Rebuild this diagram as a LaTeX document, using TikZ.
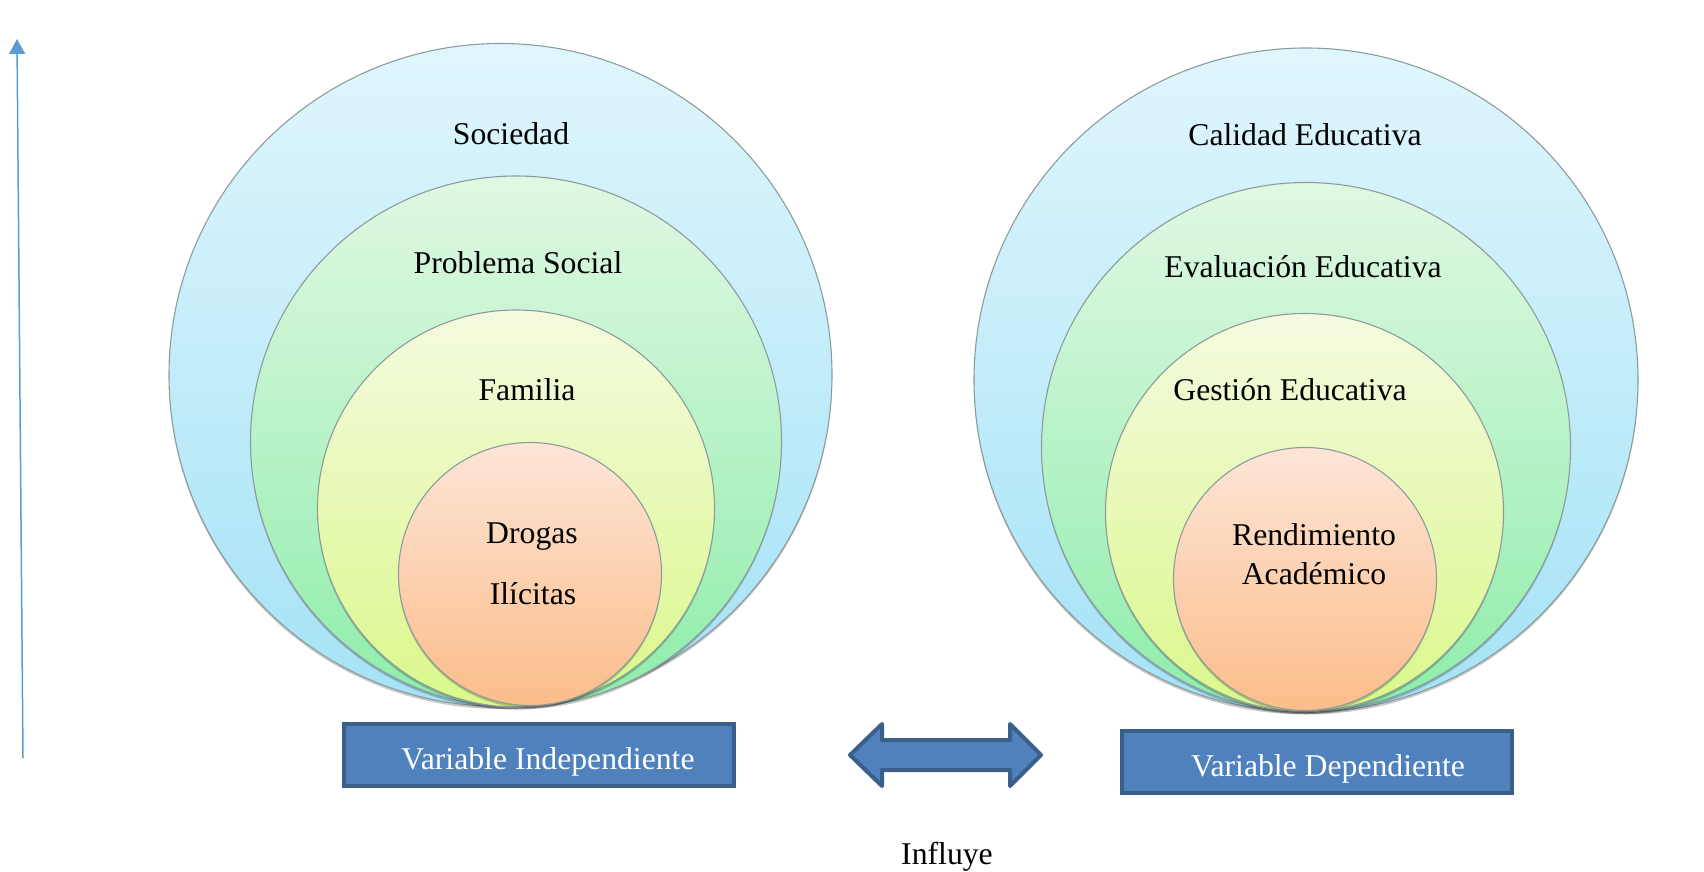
\documentclass[tikz,border=0pt]{standalone}
\usepackage{fontspec}
\setmainfont{Liberation Serif}
\usetikzlibrary{arrows.meta,shadows}
\definecolor{blueT}{HTML}{E0F6FD}
\definecolor{blueB}{HTML}{A4E2F6}
\definecolor{greenT}{HTML}{E0F8E3}
\definecolor{greenB}{HTML}{8EEDAA}
\definecolor{yelT}{HTML}{F4FADF}
\definecolor{yelB}{HTML}{DAF88A}
\definecolor{peachT}{HTML}{FDE5D7}
\definecolor{peachB}{HTML}{FBBD8A}
\definecolor{ringline}{HTML}{8C9C9C}
\definecolor{boxfill}{HTML}{4F81BD}
\definecolor{boxline}{HTML}{3A5F8B}
\definecolor{axisblue}{HTML}{5B9BD5}
\tikzset{
  ring/.style={circle, inner sep=0pt, outer sep=0pt, draw=ringline, line width=1.1pt,
    minimum size=#1,
    drop shadow={shadow xshift=0pt, shadow yshift=-2.5pt, opacity=0.22, fill=black}},
  blue ring/.style={ring=#1, top color=blueT, bottom color=blueB},
  green ring/.style={ring=#1, top color=greenT, bottom color=greenB},
  yellow ring/.style={ring=#1, top color=yelT, bottom color=yelB},
  peach ring/.style={ring=#1, top color=peachT, bottom color=peachB},
  lbl/.style={anchor=base, inner sep=0pt, font=\fontsize{31.7}{38}\selectfont},
  varbox/.style={draw=boxline, fill=boxfill, line width=4pt, inner sep=0pt,
    minimum width=390pt, minimum height=62pt},
  bigarrow/.style={draw=boxline, fill=boxfill, line width=4pt, line join=round},
}
\begin{document}
\begin{tikzpicture}[x=1pt,y=-1pt]
\useasboundingbox (0,0) rectangle (1704,872);

% vertical axis arrow
\coordinate (axb) at (23,758);
\coordinate (axt) at (17,39);
\draw[axisblue, line width=1.5pt, -{Triangle[length=15pt,width=16pt]}] (axb) -- (axt);

% left concentric circles
\node[blue ring=663pt]   (soc) at (500.5,375) {};
\node[green ring=531pt]  (prob) at (516,441.5) {};
\node[yellow ring=397pt] (fam) at (516,508.5) {};
\node[peach ring=263pt]  (drog) at (530,574) {};

\node[lbl] (tsoc)  at (511,144) {Sociedad};
\node[lbl] (tprob) at (518,273) {Problema Social};
\node[lbl] (tfam)  at (527,400) {Familia};
\node[lbl] (tdrog) at (532,543) {Drogas};
\node[lbl] (tilic) at (533,604) {Ilícitas};

% right concentric circles
\node[blue ring=664pt]   (cal) at (1306,380) {};
\node[green ring=529pt]  (eval) at (1306,447) {};
\node[yellow ring=398pt] (gest) at (1304.5,512.5) {};
\node[peach ring=263pt]  (rend) at (1305,579) {};

\node[lbl] (tcal)  at (1305,145) {Calidad Educativa};
\node[lbl] (teval) at (1303,277) {Evaluación Educativa};
\node[lbl] (tgest) at (1290,400) {Gestión Educativa};
\node[lbl] (trend) at (1314,545) {Rendimiento};
\node[lbl] (tacad) at (1314,584) {Académico};

% variable boxes
\node[varbox] (vi) at (539,755) {};
\node[lbl, text=white] (tvi) at (548,769) {Variable Independiente};
\node[varbox] (vd) at (1317,761.5) {};
\node[lbl, text=white] (tvd) at (1328,776) {Variable Dependiente};

% double arrow
\draw[bigarrow] (850,755) -- (882,724) -- (882,740) -- (1010,740) -- (1010,724)
  -- (1041,755) -- (1010,786) -- (1010,770) -- (882,770) -- (882,786) -- cycle;

\node[lbl] (tinf) at (947,864) {Influye};
\end{tikzpicture}
\end{document}
